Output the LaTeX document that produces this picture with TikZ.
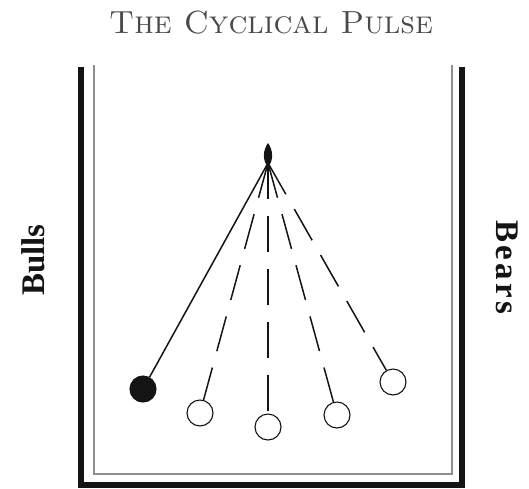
\documentclass[tikz,border=0pt]{standalone}
\usepackage{fontspec}
\usepackage{tikz}
\newfontfamily\sidefont{Liberation Serif}
\definecolor{Ink}{HTML}{141414}
\definecolor{Rail}{HTML}{8E8E8E}
\definecolor{Engrave}{HTML}{4A4A4A}

\begin{document}
\begin{tikzpicture}[
  x=1pt,y=-1pt,
  ball/.style={circle,draw=Ink,line width=1.1pt,minimum size=26pt,inner sep=0pt,fill=white},
  heldball/.style={ball,fill=Ink},
  string/.style={draw=Ink,line width=1.5pt},
  swing/.style={string,dash pattern=on 36pt off 17pt},
  side/.style={font=\sidefont\bfseries\fontsize{33}{36}\selectfont,text=Ink}
]
\useasboundingbox (0,0) rectangle (529,488);
\node[font=\fontsize{32}{36}\selectfont,text=Engrave] (title) at (271,23) {\textsc{The Cyclical Pulse}};
% frame
\draw[line width=6pt,draw=Ink] (81,67) -- (81,485) -- (462,485) -- (462,67);
\draw[line width=2pt,draw=Rail] (94,65) -- (94,474) -- (452,474) -- (452,65);
\node[side,rotate=90] (bulls) at (33,260) {Bulls};
\node[side,rotate=-90] (bears) at (507,267) {\addfontfeature{LetterSpace=10}Bears};
% pivot and balls
\coordinate (pivot) at (268,163);
\fill[Ink] (268,143) .. controls (273,150) and (274,160) .. (268,167) .. controls (262,160) and (263,150) .. (268,143);
\node[heldball] (b1) at (143,389) {};
\foreach \n/\x/\y in {2/200/413,3/268/427,4/337/415,5/393/382}
  \node[ball] (b\n) at (\x,\y) {};
\draw[string] (pivot) -- (b1);
\foreach \n in {2,...,5}
  \draw[swing] (pivot) -- (b\n);
\end{tikzpicture}
\end{document}
